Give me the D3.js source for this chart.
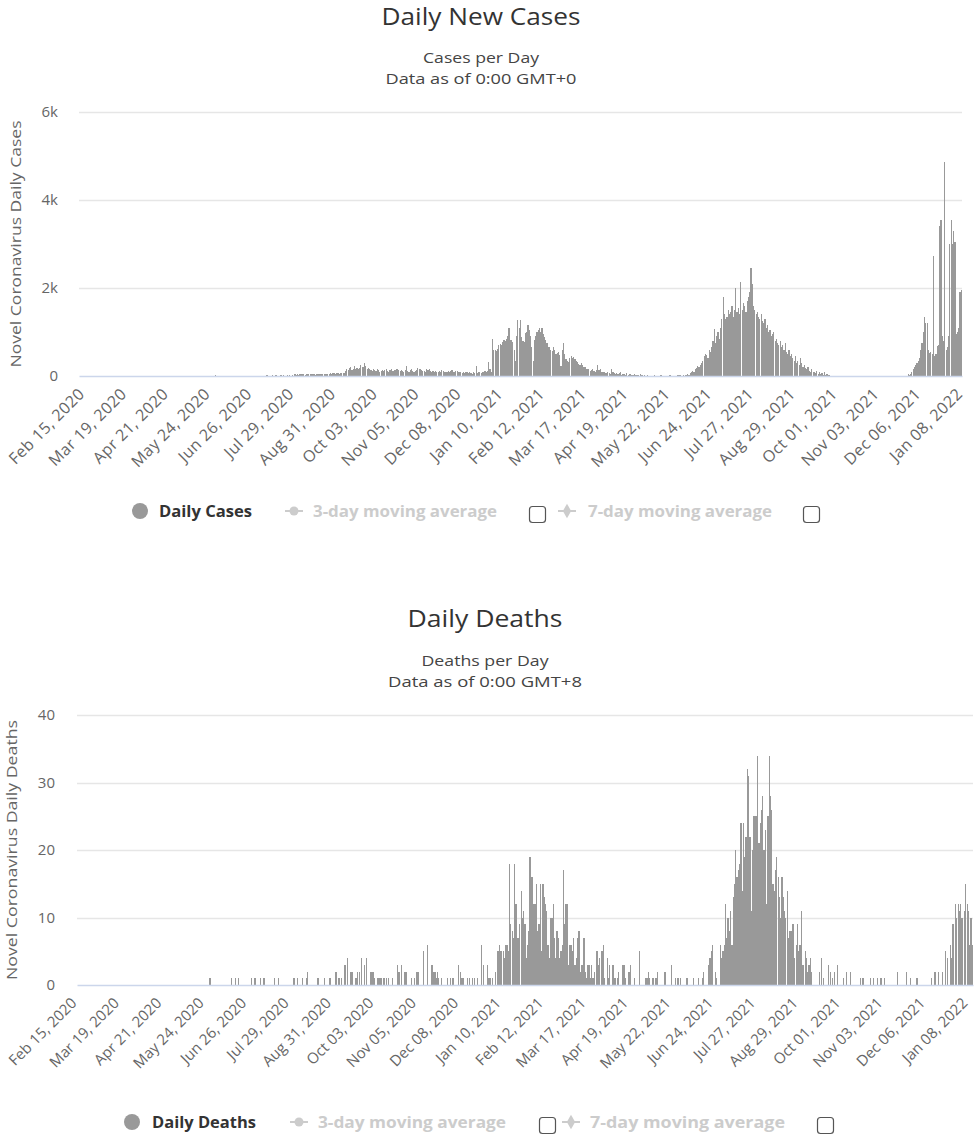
<!DOCTYPE html>
<html><head><meta charset="utf-8">
<script src="https://cdn.jsdelivr.net/npm/d3@7"></script>
<style>body{margin:0;background:#fff}svg{display:block}</style>
</head><body><svg id="c" width="974" height="1139"></svg>
<script>
const startDate = "2020-02-15";
const tickLabels = ["Feb 15, 2020","Mar 19, 2020","Apr 21, 2020","May 24, 2020","Jun 26, 2020","Jul 29, 2020","Aug 31, 2020","Oct 03, 2020","Nov 05, 2020","Dec 08, 2020","Jan 10, 2021","Feb 12, 2021","Mar 17, 2021","Apr 19, 2021","May 22, 2021","Jun 24, 2021","Jul 27, 2021","Aug 29, 2021","Oct 01, 2021","Nov 03, 2021","Dec 06, 2021","Jan 08, 2022"];
const casesTicks = [0, 2000, 4000, 6000];
const deathsTicks = [0, 10, 20, 30, 40];

const dailyCases = [
0,0,0,0,0,0,0,0,0,0, 0,0,0,0,0,0,0,0,0,0, 0,0,0,0,0,0,0,0,0,0, 0,0,0,0,0,0,0,0,0,0, 0,0,0,0,0,0,0,0,0,0,
0,0,0,0,0,0,0,0,0,0, 0,0,0,0,0,0,0,0,0,0, 0,0,0,0,0,0,0,0,0,0, 0,0,0,0,0,0,0,0,0,0, 0,0,0,0,0,0,0,0,0,0,
0,0,0,0,0,0,0,15,0,0,
0,0,10,0,0,0,0,0,0,0,
0,0,0,0,0,0,0,0,0,0,
0,0,0,0,0,0,0,0,0,0,
0,0,0,0,0,0,0,0,20,0,
10,0,25,0,0,15,0,0,0,12,
0,20,0,0,18,0,30,0,25,0,
35,20,40,30,45,38,42,35,30,40,
36,45,40,38,42,35,30,48,44,40,
38,45,50,42,40,55,48,52,60,45,
58,62,50,65,70,55,60,72,68,75,
110,150,130,180,200,140,170,220,160,190,
150,180,240,200,210,290,230,170,190,150,
130,120,160,140,110,150,130,100,120,140,
110,130,150,120,100,140,160,120,110,130,
150,170,140,120,130,110,100,140,217,120,
100,130,150,110,90,120,140,180,160,150,
130,110,120,100,150,140,160,120,100,110,
90,120,80,100,110,90,130,120,100,80,
90,110,100,120,140,100,90,110,120,100,
80,90,70,80,60,100,90,70,80,60,
50,80,70,230,60,80,90,70,100,80,
110,90,120,325,150,100,850,600,580,560,
620,700,720,700,780,810,800,850,900,1100,
820,810,780,600,350,900,1280,1100,1280,890,
800,775,970,1000,1160,1050,900,660,350,810,
900,1000,1050,1085,1000,1100,950,890,810,740,
660,650,580,560,660,600,500,520,540,480,
230,600,740,500,390,340,310,400,465,420,
430,380,350,310,280,260,300,240,200,195,
155,170,150,115,130,150,120,100,140,255,
130,155,100,80,90,70,60,80,60,50,
155,80,60,50,70,40,60,80,30,50,
40,30,60,20,40,50,30,20,40,30,
20,30,0,40,20,0,30,0,20,0,
0,10,0,0,15,0,0,0,0,20,
0,0,10,0,0,0,20,0,0,0,
0,0,15,20,25,0,10,20,30,15,
40,30,60,80,120,100,150,180,230,200,
250,300,350,450,500,480,420,600,550,650,
800,1077,750,900,1000,850,1100,1300,1790,1400,
1300,1350,1500,1400,1450,1600,1350,1500,2000,1450,
1550,1400,2140,1500,1650,1600,1450,1700,1800,1900,
2460,2100,1600,1500,1400,1450,1350,1300,1400,1250,
1200,1300,1100,1150,1000,1050,900,950,1000,800,
850,750,700,800,650,700,600,750,550,500,
600,450,500,400,350,450,300,350,250,400,
300,200,250,180,150,200,120,100,150,80,
100,60,120,50,80,40,60,30,100,20,
40,20,30,10,0,0,0,0,0,0,
0,0,0,0,0,0,0,0,0,0,
0,0,0,0,0,0,0,0,0,0,
0,0,0,0,0,0,0,0,0,0,
0,0,0,0,0,0,0,0,0,0,
0,0,0,0,0,0,0,0,0,0,
0,0,0,0,40,30,50,80,150,200,
250,300,350,400,600,750,1000,1350,1200,1200,
600,530,550,500,2720,450,500,680,700,3400,
3550,900,800,4870,600,650,900,3000,3550,3000,
3300,3050,950,1000,1100,1900,1950
];

const dailyDeaths = [
0,0,0,0,0,0,0,0,0,0, 0,0,0,0,0,0,0,0,0,0, 0,0,0,0,0,0,0,0,0,0, 0,0,0,0,0,0,0,0,0,0, 0,0,0,0,0,0,0,0,0,0,
0,0,0,0,0,0,0,0,0,0, 0,0,0,0,0,0,0,0,0,0, 0,0,0,0,0,0,0,0,0,0, 0,0,0,0,0,0,0,0,0,0, 0,0,0,0,0,0,0,0,0,0,
0,0,0,1,0,0,0,0,0,0,
0,0,0,0,0,0,0,0,0,0,
1,0,0,1,0,1,0,0,0,0,
0,0,0,0,0,1,0,0,1,0,
0,0,1,0,0,1,0,0,0,0,
0,0,0,1,0,0,1,0,0,0,
0,0,0,0,0,0,0,0,1,1,
0,1,0,0,0,1,0,0,1,2,
0,0,0,0,0,0,0,1,0,0,
0,0,1,0,0,0,1,1,0,0,
0,2,0,1,1,1,0,0,3,0,
4,0,2,2,2,0,1,1,2,2,
0,4,0,3,0,4,0,0,2,2,
2,1,0,1,1,1,1,0,1,1,
1,0,1,0,0,1,0,0,0,3,
2,0,3,0,2,2,2,0,0,0,
1,0,1,0,2,2,0,0,0,5,
0,0,6,0,0,3,3,2,2,1,
2,1,0,1,0,0,0,0,1,0,
1,0,1,0,0,0,3,0,2,1,
1,0,0,1,0,1,0,1,0,1,
0,1,0,0,6,0,3,0,0,3,
1,1,0,1,0,2,0,5,6,5,
5,5,4,6,6,5,18,9,8,7,
18,12,7,7,9,14,10,11,9,4,
6,8,19,16,16,12,12,15,8,9,
15,5,15,13,12,11,6,4,10,10,
12,7,4,8,7,4,5,6,17,9,
12,12,3,6,6,5,7,3,4,7,
8,2,3,3,7,2,1,3,3,1,
3,1,2,0,5,3,4,0,5,6,
1,0,4,1,3,0,3,3,1,0,
1,2,0,0,3,3,1,0,0,2,
3,0,0,1,0,0,0,5,0,0,
0,0,1,1,2,1,0,1,1,0,
1,2,0,0,0,0,0,2,0,0,
0,0,3,0,0,1,0,1,0,1,
0,0,0,0,1,0,0,0,0,1,
0,0,0,1,0,0,1,2,0,0,
0,3,4,5,6,0,2,1,0,0,
6,4,5,6,12,7,10,8,11,6,
13,15,20,16,17,18,24,14,24,19,
22,32,31,22,11,20,25,25,25,34,
21,24,26,28,20,23,12,25,34,28,
26,15,14,17,19,16,13,10,16,13,
11,10,14,7,8,8,9,9,4,6,
9,5,6,11,3,3,5,4,2,3,
4,2,0,0,0,0,0,2,0,4,
1,0,0,0,3,0,2,1,0,2,
0,3,0,0,0,0,1,0,2,0,
0,2,0,0,0,0,0,0,0,1,
0,1,0,0,0,0,0,1,0,1,
0,0,1,0,0,1,0,0,1,0,
0,0,0,0,0,0,0,0,2,0,
0,0,0,0,0,2,0,0,1,0,
0,0,0,1,0,0,0,0,0,0,
0,0,0,0,1,0,0,2,0,0,
2,0,0,2,0,5,0,4,0,6,
4,9,0,12,10,12,11,12,10,0,
11,15,12,11,6,10,6
];

const svg = d3.select("#c");
const FONT = "'Open Sans', 'DejaVu Sans', sans-serif";
const parseDay = d3.utcParse("%Y-%m-%d");
const fmtDay = d3.utcFormat("%b %d, %Y");
const start = parseDay(startDate);
const nDays = Math.min(dailyCases.length, dailyDeaths.length);
const categories = d3.range(nDays).map(i => fmtDay(d3.utcDay.offset(start, i)));

function fitText(sel, w) { sel.attr("textLength", w).attr("lengthAdjust", "spacingAndGlyphs"); }

function drawChart(cfg) {
  const g = svg.append("g");
  const x = d3.scaleBand().domain(categories).range([cfg.left, cfg.right]).padding(0);
  const y = d3.scaleLinear().domain([0, cfg.yMax]).range([cfg.bottom, cfg.top]);
  const bw = x.bandwidth();

  g.append("text").attr("x", cfg.titleX).attr("y", cfg.titleY).attr("text-anchor", "middle")
    .attr("font-family", FONT).attr("font-size", 24).attr("fill", "#333").text(cfg.title)
    .call(fitText, cfg.titleW);
  cfg.subs.forEach((s, i) => {
    g.append("text").attr("x", cfg.titleX).attr("y", cfg.subY[i]).attr("text-anchor", "middle")
      .attr("font-family", FONT).attr("font-size", 15).attr("fill", "#444").text(s)
      .call(fitText, cfg.subW[i]);
  });

  g.append("g").selectAll("line").data(cfg.yTicks.filter(d => d > 0)).join("line")
    .attr("x1", cfg.left).attr("x2", cfg.right)
    .attr("y1", d => Math.round(y(d)) + 0.5).attr("y2", d => Math.round(y(d)) + 0.5)
    .attr("stroke", "#e6e6e6").attr("stroke-width", 1.5);

  g.append("g").selectAll("rect").data(cfg.values).join("rect")
    .attr("x", (d, i) => Math.round(x(categories[i])))
    .attr("width", (d, i) => Math.max(1, Math.round(x(categories[i]) + bw * 0.92) - Math.round(x(categories[i]))))
    .attr("y", d => y(d))
    .attr("height", d => cfg.bottom - y(d))
    .attr("fill", "#999999")
    .attr("shape-rendering", "crispEdges");

  const ya = g.append("g").attr("transform", `translate(${cfg.left},0)`)
    .call(d3.axisLeft(y).tickValues(cfg.yTicks).tickFormat(cfg.fmt).tickSize(0).tickPadding(cfg.yPad));
  ya.select(".domain").remove();
  ya.selectAll("text").attr("font-family", FONT).attr("font-size", 15).attr("fill", "#666");

  const xa = g.append("g").attr("transform", `translate(0,${cfg.bottom})`)
    .call(d3.axisBottom(x).tickValues(tickLabels).tickSize(0));
  xa.select(".domain").attr("stroke", "#ccd6eb").attr("stroke-width", 1.5);
  xa.selectAll("text").attr("font-family", FONT).attr("font-size", cfg.xFont).attr("fill", "#666")
    .attr("letter-spacing", cfg.xLs)
    .attr("text-anchor", "end").attr("x", 0).attr("y", 0).attr("dy", 0)
    .attr("transform", `translate(${cfg.xLabDx},${cfg.xLabDy}) rotate(-45)`);

  g.append("text").attr("transform", `translate(${cfg.yTitleX},${(cfg.top + cfg.bottom) / 2}) rotate(-90)`)
    .attr("text-anchor", "middle").attr("font-family", FONT).attr("font-size", 15).attr("fill", "#666")
    .text(cfg.yTitle).call(fitText, cfg.yTitleW);

  const L = cfg.legend;
  const lg = g.append("g").attr("font-family", FONT).attr("font-weight", "bold").attr("font-size", 16);
  lg.append("circle").attr("cx", L.dotX).attr("cy", L.y).attr("r", 8).attr("fill", "#999");
  lg.append("text").attr("x", L.textX).attr("y", L.y + 6).attr("fill", "#333").text(cfg.seriesName).call(fitText, L.textW);
  [0, 1].forEach(k => {
    const sx = L.symX[k];
    lg.append("line").attr("x1", sx).attr("x2", sx + 18).attr("y1", L.y).attr("y2", L.y)
      .attr("stroke", "#cccccc").attr("stroke-width", 2);
    if (k === 0) {
      lg.append("circle").attr("cx", sx + 9).attr("cy", L.y).attr("r", 4.5).attr("fill", "#cccccc");
    } else {
      lg.append("path").attr("d", d3.symbol(d3.symbolDiamond, 60)()).attr("transform", `translate(${sx + 9},${L.y})`).attr("fill", "#cccccc");
    }
    lg.append("text").attr("x", L.avgX[k]).attr("y", L.y + 6).attr("fill", "#cccccc")
      .text(k === 0 ? "3-day moving average" : "7-day moving average").call(fitText, L.avgW[k]);
    lg.append("rect").attr("x", L.boxX[k] + 0.5).attr("y", L.y - 4.5).attr("width", 16).attr("height", 16)
      .attr("rx", 3).attr("fill", "#fff").attr("stroke", "#555").attr("stroke-width", 1.2);
  });
}

const fmtK = d => d === 0 ? "0" : (d / 1000) + "k";

drawChart({
  title: "Daily New Cases", titleX: 481, titleY: 25, titleW: 199,
  subs: ["Cases per Day", "Data as of 0:00 GMT+0"], subY: [63, 84], subW: [116, 191],
  left: 79, right: 962, top: 112, bottom: 376, yMax: 6000, yTicks: casesTicks, fmt: fmtK, yPad: 21,
  values: dailyCases, xFont: 16, xLs: 0.4, xLabDx: 6, xLabDy: 19,
  yTitle: "Novel Coronavirus Daily Cases", yTitleX: 21, yTitleW: 247,
  seriesName: "Daily Cases",
  legend: { y: 511, dotX: 140, textX: 159, textW: 93, symX: [285, 558], avgX: [313, 588], avgW: [184, 184], boxX: [529, 803] }
});

drawChart({
  title: "Daily Deaths", titleX: 485, titleY: 627, titleW: 155,
  subs: ["Deaths per Day", "Data as of 0:00 GMT+8"], subY: [666, 687], subW: [127, 194],
  left: 77, right: 973, top: 715, bottom: 985, yMax: 40, yTicks: deathsTicks, fmt: d3.format("d"), yPad: 22,
  values: dailyDeaths, xFont: 15, xLs: 0, xLabDx: 0, xLabDy: 19,
  yTitle: "Novel Coronavirus Daily Deaths", yTitleX: 17, yTitleW: 260,
  seriesName: "Daily Deaths",
  legend: { y: 1122, dotX: 132, textX: 152, textW: 104, symX: [290, 562], avgX: [318, 590], avgW: [188, 195], boxX: [539, 817] }
});
</script>
</body></html>
